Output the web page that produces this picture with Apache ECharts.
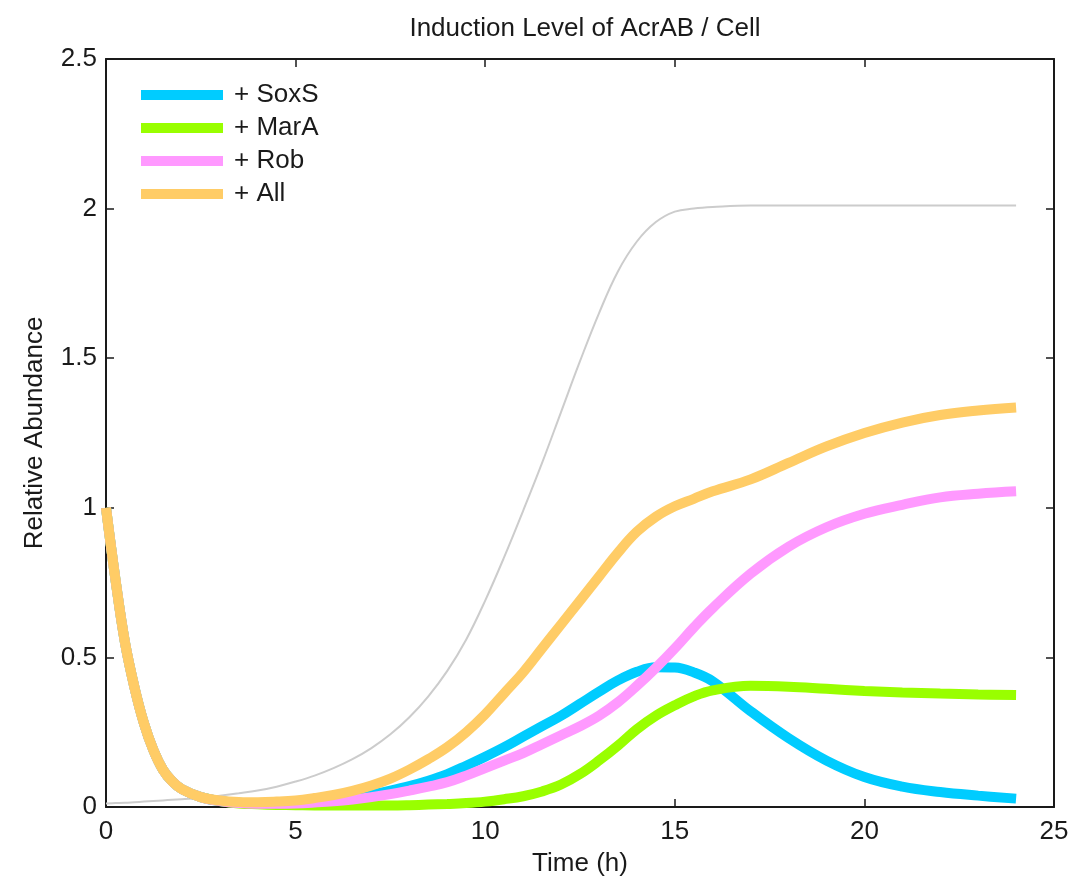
<!DOCTYPE html>
<html>
<head>
<meta charset="utf-8">
<script src="https://cdn.jsdelivr.net/npm/echarts@6/dist/echarts.min.js"></script>
<style>
  html, body { margin: 0; padding: 0; background: #fff; }
  #chart { width: 1077px; height: 888px; }
</style>
</head>
<body>
<div id="chart"></div>
<script>
// time points (h)
const hours = [0, 0.25, 0.5, 0.75, 1, 1.25, 1.5, 1.75, 2,
    2.5, 3, 3.5, 4, 4.5, 5, 5.5, 6, 6.5, 7, 7.5, 8, 8.5, 9, 9.5, 10,
    10.5, 11, 11.5, 12, 12.5, 13, 13.5, 14, 14.5, 15, 15.5, 16,
    17, 18, 19, 20, 21, 22, 23, 24];

// reference (thin gray) curve
const baseline = [0.012, 0.013, 0.014, 0.016, 0.018, 0.02, 0.022, 0.024, 0.026,
    0.03, 0.038, 0.046, 0.055, 0.068, 0.085, 0.105, 0.13, 0.16, 0.197, 0.243, 0.3, 0.37, 0.455, 0.56, 0.69,
    0.835, 0.99, 1.15, 1.32, 1.49, 1.65, 1.79, 1.89, 1.955, 1.99, 2.0, 2.005,
    2.01, 2.01, 2.01, 2.01, 2.01, 2.01, 2.01, 2.01];

const soxS = [1.0, 0.76, 0.55, 0.40, 0.28, 0.19, 0.125, 0.085, 0.06,
    0.033, 0.02, 0.014, 0.012, 0.013, 0.015, 0.019, 0.025, 0.032, 0.042, 0.055, 0.07, 0.088, 0.11, 0.138, 0.168,
    0.2, 0.235, 0.27, 0.305, 0.345, 0.385, 0.423, 0.452, 0.467, 0.466, 0.45, 0.42,
    0.32, 0.23, 0.155, 0.1, 0.068, 0.05, 0.038, 0.028];

const marA = [1.0, 0.76, 0.55, 0.40, 0.28, 0.19, 0.125, 0.085, 0.06,
    0.033, 0.02, 0.012, 0.009, 0.007, 0.006, 0.005, 0.005, 0.005, 0.005, 0.005, 0.006, 0.008, 0.01, 0.013, 0.018,
    0.026, 0.036, 0.052, 0.075, 0.11, 0.155, 0.205, 0.26, 0.305, 0.34, 0.37, 0.39,
    0.405, 0.402, 0.395, 0.388, 0.383, 0.379, 0.376, 0.374];

const rob = [1.0, 0.76, 0.55, 0.40, 0.28, 0.19, 0.125, 0.085, 0.06,
    0.033, 0.02, 0.013, 0.011, 0.011, 0.012, 0.015, 0.019, 0.025, 0.033, 0.043, 0.055, 0.068, 0.083, 0.105, 0.13,
    0.155, 0.18, 0.21, 0.24, 0.27, 0.305, 0.35, 0.405, 0.465, 0.53, 0.6, 0.665,
    0.78, 0.87, 0.935, 0.98, 1.01, 1.035, 1.047, 1.055];

const all = [1.0, 0.76, 0.55, 0.40, 0.28, 0.19, 0.125, 0.085, 0.06,
    0.033, 0.022, 0.017, 0.016, 0.018, 0.022, 0.03, 0.04, 0.054, 0.072, 0.095, 0.125, 0.16, 0.2, 0.25, 0.31,
    0.38, 0.45, 0.53, 0.61, 0.69, 0.77, 0.85, 0.92, 0.97, 1.005, 1.03, 1.055,
    1.095, 1.15, 1.205, 1.25, 1.285, 1.31, 1.325, 1.335];

const legendNames = ['+ SoxS', '+ MarA', '+ Rob', '+ All'];
const seriesColors = ['#00ccff', '#99ff00', '#ff99ff', '#ffcc66'];

const xTicks = [0, 25, 5];     // min, max, interval
const yTicks = [0, 2.5, 0.5];

const font = '"Liberation Sans", Arial, sans-serif';
const ink = '#1a1a1a';
const fs = 26;

function pairs(values) {
    return hours.map((t, i) => [t, values[i]]);
}

function boxAxis(base, extra) {
    return Object.assign({
        type: 'value',
        axisLine: { show: true, onZero: false, lineStyle: { color: ink, width: 2 } },
        axisTick: { show: true, inside: true, length: 8, lineStyle: { color: ink, width: 1.5 } },
        splitLine: { show: false }
    }, base, extra);
}

const chart = echarts.init(document.getElementById('chart'), null, { renderer: 'canvas' });

const xBase = { min: xTicks[0], max: xTicks[1], interval: xTicks[2] };
const yBase = { min: yTicks[0], max: yTicks[1], interval: yTicks[2] };

const option = {
    backgroundColor: '#fff',
    animation: false,
    title: {
        text: 'Induction Level of AcrAB / Cell',
        left: 580,
        textAlign: 'center',
        top: 11,
        textStyle: { fontFamily: font, fontSize: fs, fontWeight: 'normal', color: ink }
    },
    grid: { left: 106, right: 23, top: 59, bottom: 81, containLabel: false },
    legend: {
        data: legendNames,
        orient: 'vertical',
        left: 136,
        top: 77,
        icon: 'rect',
        itemWidth: 82,
        itemHeight: 10,
        itemGap: 7,
        textStyle: { fontFamily: font, fontSize: fs, color: ink, lineHeight: 26, padding: [0, 0, 0, 6] }
    },
    xAxis: [
        boxAxis(xBase, {
            position: 'bottom',
            name: 'Time (h)',
            nameLocation: 'middle',
            nameGap: 44,
            nameTextStyle: { fontFamily: font, fontSize: fs, color: ink },
            axisLabel: { fontFamily: font, fontSize: fs, color: ink, margin: 12 }
        }),
        boxAxis(xBase, { position: 'top', axisLabel: { show: false } })
    ],
    yAxis: [
        boxAxis(yBase, {
            position: 'left',
            name: 'Relative Abundance',
            nameLocation: 'middle',
            nameGap: 58,
            nameTextStyle: { fontFamily: font, fontSize: fs, color: ink },
            axisLabel: { fontFamily: font, fontSize: fs, color: ink, margin: 9 }
        }),
        boxAxis(yBase, { position: 'right', axisLabel: { show: false } })
    ],
    series: [
        {
            name: 'baseline',
            type: 'line',
            data: pairs(baseline),
            smooth: 0.4,
            showSymbol: false,
            lineStyle: { color: '#cccccc', width: 2 },
            z: 1
        }
    ].concat([soxS, marA, rob, all].map((vals, i) => ({
        name: legendNames[i],
        type: 'line',
        data: pairs(vals),
        smooth: 0.4,
        showSymbol: false,
        color: seriesColors[i],
        lineStyle: { color: seriesColors[i], width: 10, cap: 'butt' },
        z: 2 + i
    })))
};

chart.setOption(option);
</script>
</body>
</html>
